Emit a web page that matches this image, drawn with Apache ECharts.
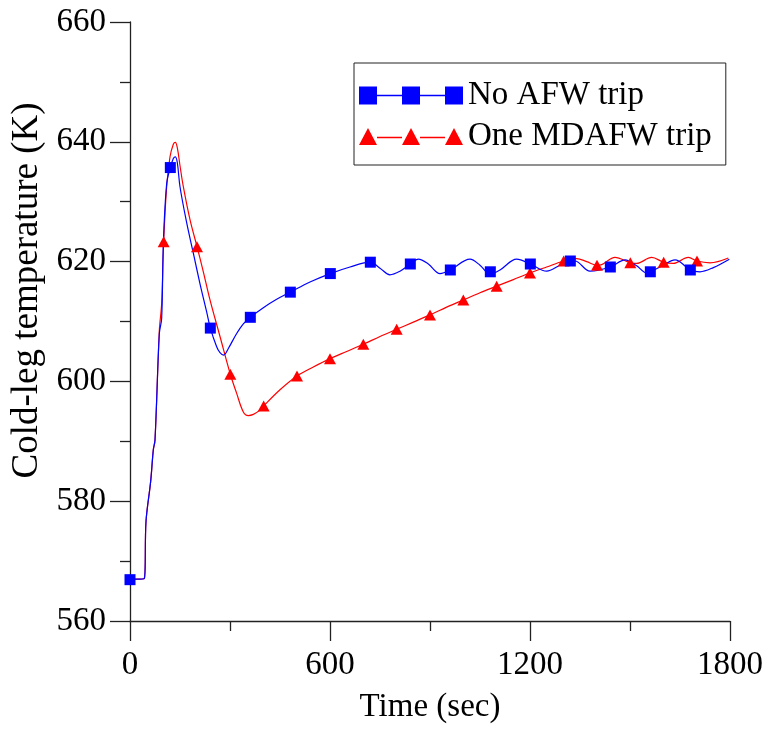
<!DOCTYPE html>
<html>
<head>
<meta charset="utf-8">
<style>
  html, body { margin: 0; padding: 0; background: #fff; }
  #chart { width: 768px; height: 729px; }
</style>
<script src="https://cdn.jsdelivr.net/npm/echarts@6/dist/echarts.min.js"></script>
</head>
<body>
<div id="chart"></div>
<script>
// Cold-leg temperature transient, two auxiliary feedwater cases.
const seriesNames = ['No AFW trip', 'One MDAFW trip'];

// Continuous trace [time s, temperature K] for the case without AFW trip
const noTripCurve = [
  [0, 567.0], [20, 567.0], [43, 567.1], [48, 576.6], [62, 583.3], [70, 588.6],
  [75, 590.2], [88, 608.0], [95, 610.5], [100, 623.0], [110, 633.0], [121, 635.7],
  [130, 637.2], [136, 637.5], [142, 636.5], [150, 632.5], [170, 626.5], [190, 621.4],
  [210, 616.3], [230, 611.6], [241, 608.9], [260, 605.8], [270, 604.8], [281, 604.4],
  [295, 605.5], [320, 608.0], [340, 609.6], [361, 610.7], [400, 612.3], [440, 613.7],
  [481, 614.9], [540, 616.6], [601, 618.0], [660, 619.1], [721, 619.9], [750, 618.9],
  [780, 617.8], [810, 618.4], [841, 619.6], [865, 620.4], [895, 619.6], [930, 618.0],
  [961, 618.6], [1020, 620.4], [1050, 619.4], [1080, 617.9], [1110, 618.6], [1160, 620.4],
  [1201, 619.6], [1250, 618.4], [1290, 619.4], [1321, 620.1], [1335, 620.1], [1380, 618.4],
  [1441, 619.1], [1485, 620.3], [1520, 619.3], [1550, 618.1], [1561, 618.3], [1600, 619.4],
  [1635, 620.3], [1681, 618.6], [1710, 618.3], [1750, 619.0], [1798, 620.4]
];
// Marker positions for the same case (every 120 s)
const noTripMarks = [
  [0, 566.9], [121, 635.7], [241, 608.9], [361, 610.7], [481, 614.9], [601, 618.0],
  [721, 619.9], [841, 619.6], [961, 618.6], [1081, 618.3], [1201, 619.6], [1321, 620.1],
  [1441, 619.1], [1561, 618.3], [1681, 618.6]
];

// Continuous trace for the case with one motor-driven AFW pump tripped
const oneTripCurve = [
  [0, 567.0], [20, 567.0], [43, 567.1], [48, 576.6], [62, 583.3], [70, 588.6],
  [75, 590.2], [88, 608.5], [95, 613.0], [101, 623.3], [110, 632.5], [120, 637.5],
  [130, 639.6], [136, 639.9], [142, 639.0], [150, 636.0], [160, 632.5], [180, 627.0],
  [201, 622.5], [220, 618.3], [240, 613.6], [270, 607.5], [301, 601.2], [320, 598.0],
  [340, 594.9], [355, 594.3], [370, 594.5], [390, 595.2], [401, 595.9], [450, 598.6],
  [501, 600.9], [550, 602.4], [600, 603.8], [650, 605.0], [700, 606.2], [750, 607.5],
  [800, 608.7], [850, 609.9], [900, 611.1], [950, 612.4], [1000, 613.6], [1050, 614.8],
  [1100, 615.9], [1150, 617.0], [1200, 618.1], [1250, 619.1], [1301, 620.1], [1340, 620.5],
  [1370, 620.0], [1401, 619.4], [1415, 619.5], [1455, 620.7], [1501, 619.8], [1520, 619.7],
  [1565, 620.7], [1601, 619.9], [1630, 619.7], [1675, 620.7], [1701, 620.1], [1740, 619.8],
  [1795, 620.6]
];
// Marker positions for the same case (every 100 s)
const oneTripMarks = [
  [101, 623.3], [201, 622.5], [301, 601.2], [401, 595.9], [501, 600.9], [600, 603.8],
  [700, 606.2], [800, 608.7], [900, 611.1], [1000, 613.6], [1100, 615.9], [1200, 618.1],
  [1301, 620.1], [1401, 619.4], [1501, 619.8], [1601, 619.9], [1701, 620.1]
];

const xTicks = { min: 0, max: 1800, interval: 600 };
const yTicks = { min: 560, max: 660, interval: 20 };

const BLUE = '#0000ff';
const RED = '#ff0000';
const FONT = '"Liberation Serif", "Times New Roman", serif';

// Legend glyphs: three markers joined by a thin line
const squaresIcon = 'path://M0,0H18V18H0Z M18,8.3H43V9.7H18Z M43,0H61V18H43Z M61,8.3H86V9.7H61Z M86,0H104V18H86Z';
const trianglesIcon = 'path://M9,0L18,17H0Z M18,8.8H43V10.2H18Z M52,0L61,17H43Z M61,8.8H86V10.2H61Z M95,0L104,17H86Z';

const chart = echarts.init(document.getElementById('chart'), null, { renderer: 'canvas' });

chart.setOption({
  backgroundColor: '#ffffff',
  animation: false,
  textStyle: { fontFamily: FONT, color: '#000' },
  grid: { left: 130, top: 22, width: 600, height: 599, containLabel: false },
  legend: {
    left: 354, top: 63,
    orient: 'vertical',
    padding: [16, 14, 12, 5],
    itemGap: 8,
    itemWidth: 104, itemHeight: 18,
    borderColor: '#222', borderWidth: 1,
    backgroundColor: '#fff',
    itemStyle: { borderWidth: 0 },
    textStyle: { fontFamily: FONT, fontSize: 33, color: '#000', lineHeight: 33 },
    data: [
      { name: seriesNames[0], icon: squaresIcon },
      { name: seriesNames[1], icon: trianglesIcon }
    ]
  },
  xAxis: {
    type: 'value',
    min: xTicks.min, max: xTicks.max, interval: xTicks.interval,
    name: 'Time (sec)', nameLocation: 'middle', nameGap: 70,
    nameTextStyle: { fontFamily: FONT, fontSize: 33, color: '#000' },
    axisLine: { show: true, onZero: false, lineStyle: { color: '#222', width: 1.3 } },
    axisTick: { show: true, inside: false, length: 20, lineStyle: { color: '#222', width: 1.3 } },
    minorTick: { show: true, splitNumber: 2, length: 10, lineStyle: { color: '#222', width: 1.3 } },
    axisLabel: {
      fontFamily: FONT, fontSize: 33, color: '#000', margin: 28,
      formatter: (v) => String(v)
    },
    splitLine: { show: false }
  },
  yAxis: {
    type: 'value',
    min: yTicks.min, max: yTicks.max, interval: yTicks.interval,
    name: 'Cold-leg temperature (K)', nameLocation: 'middle', nameGap: 82, nameRotate: 90,
    nameTextStyle: { fontFamily: FONT, fontSize: 37, color: '#000', padding: [0, 0, 0, 62] },
    axisLine: { show: true, onZero: false, lineStyle: { color: '#222', width: 1.3 } },
    axisTick: { show: true, inside: false, length: 20, lineStyle: { color: '#222', width: 1.3 } },
    minorTick: { show: true, splitNumber: 2, length: 10, lineStyle: { color: '#222', width: 1.3 } },
    axisLabel: {
      fontFamily: FONT, fontSize: 33, color: '#000', margin: 24,
      formatter: (v) => String(v)
    },
    splitLine: { show: false }
  },
  series: [
    {
      name: seriesNames[1], type: 'line', data: oneTripCurve,
      smooth: 0.35, showSymbol: false, symbol: 'none',
      color: RED, lineStyle: { color: RED, width: 1.2 }, z: 2
    },
    {
      name: seriesNames[0], type: 'line', data: noTripCurve,
      smooth: 0.35, showSymbol: false, symbol: 'none',
      color: BLUE, lineStyle: { color: BLUE, width: 1.2 }, z: 3
    },
    {
      name: 'oneTripMarks', type: 'scatter', data: oneTripMarks,
      symbol: 'triangle', symbolSize: [12, 11],
      itemStyle: { color: RED, opacity: 1 }, z: 4
    },
    {
      name: 'noTripMarks', type: 'scatter', data: noTripMarks,
      symbol: 'rect', symbolSize: 11,
      itemStyle: { color: BLUE, opacity: 1 }, z: 5
    }
  ]
});
</script>
</body>
</html>
